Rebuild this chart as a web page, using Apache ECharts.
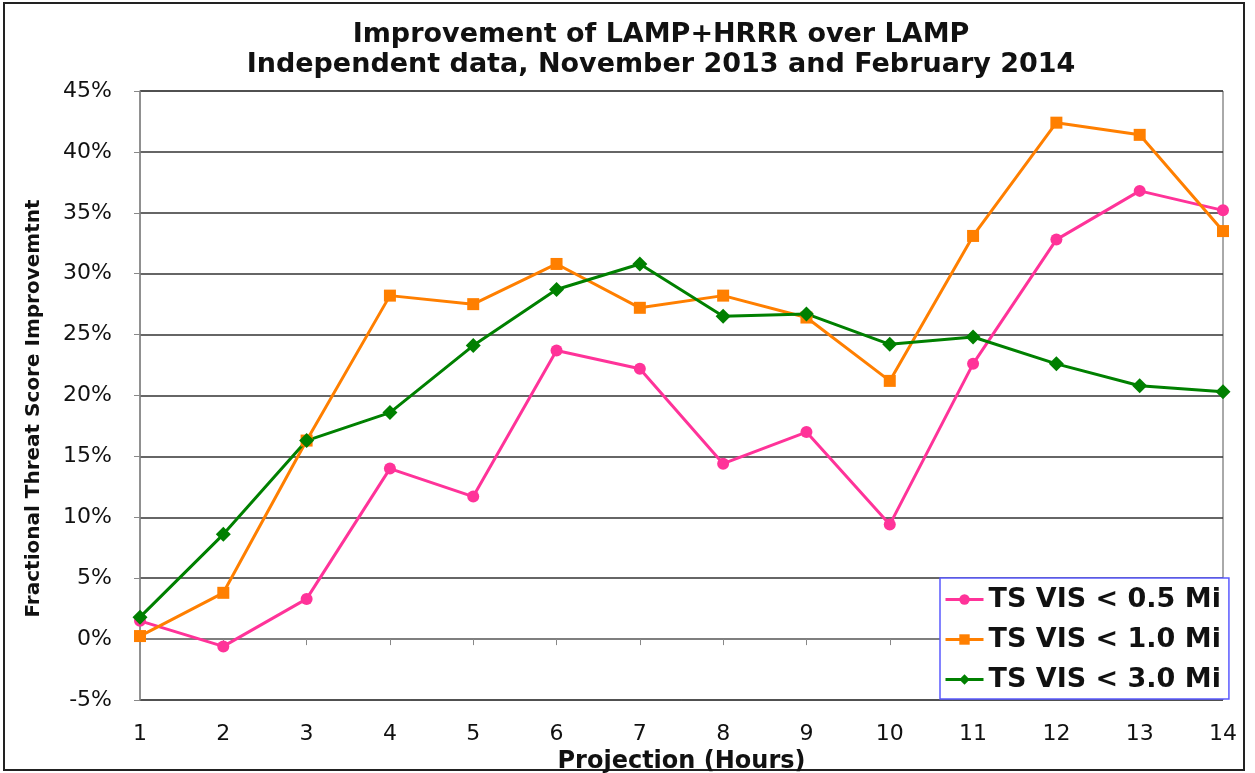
<!DOCTYPE html>
<html><head><meta charset="utf-8">
<script src="https://cdn.jsdelivr.net/npm/echarts@6/dist/echarts.min.js"></script>
<style>html,body{margin:0;padding:0;background:#fff}#c{width:1255px;height:773px}</style>
</head><body><div id="c"></div>
<script>
const categories = ['1','2','3','4','5','6','7','8','9','10','11','12','13','14'];
const vis05 = [1.5, -0.6, 3.3, 14.0, 11.7, 23.7, 22.2, 14.4, 17.0, 9.4, 22.6, 32.8, 36.8, 35.2];
const vis10 = [0.25, 3.8, 16.3, 28.2, 27.5, 30.8, 27.2, 28.2, 26.4, 21.2, 33.1, 42.4, 41.4, 33.5];
const vis30 = [1.8, 8.6, 16.3, 18.6, 24.1, 28.7, 30.8, 26.5, 26.7, 24.2, 24.8, 22.6, 20.8, 20.3];
const seriesNames = ['TS VIS < 0.5 Mi', 'TS VIS < 1.0 Mi', 'TS VIS < 3.0 Mi'];

const chart = echarts.init(document.getElementById('c'));
const font = 'DejaVu Sans, Arial, sans-serif';
function mk(name, data, color, symbol, size) {
  return { name, type: 'line', data, symbol, symbolSize: size,
    lineStyle: { color, width: 3 }, itemStyle: { color }, z: 3 };
}
chart.setOption({
  animation: false,
  backgroundColor: '#fff',
  title: {
    text: 'Improvement of LAMP+HRRR over LAMP\nIndependent data, November 2013 and February 2014',
    left: 656, textAlign: 'center', top: 15,
    textStyle: { fontFamily: font, fontSize: 27, fontWeight: 'bold', color: '#111', lineHeight: 30 }
  },
  graphic: [{ type: 'rect', shape: { x: 4, y: 3, width: 1240, height: 767 },
    style: { fill: 'none', stroke: '#222', lineWidth: 2 }, z: -1 }],
  grid: { left: 140, right: 32, top: 91, bottom: 73, containLabel: false, outerBoundsMode: 'none',
    show: true, borderColor: '#555', borderWidth: 1, backgroundColor: 'transparent' },
  legend: {
    orient: 'vertical', left: 940, top: 578,
    backgroundColor: '#fff', borderColor: '#5a5aff', borderWidth: 1.5,
    padding: [8, 8, 6, 4], itemGap: 13, itemWidth: 38, itemHeight: 13,
    lineStyle: { width: 3 },
    textStyle: { fontFamily: font, fontSize: 27, lineHeight: 27, fontWeight: 'bold', color: '#111' },
    data: seriesNames
  },
  xAxis: {
    type: 'category', data: categories, boundaryGap: false,
    name: 'Projection (Hours)', nameLocation: 'middle', nameGap: 48,
    nameTextStyle: { fontFamily: font, fontSize: 24, fontWeight: 'bold', color: '#111' },
    axisLine: { lineStyle: { color: '#888', width: 1.5 } },
    axisTick: { show: true, length: 6, lineStyle: { color: '#888' }, alignWithLabel: true },
    axisLabel: { fontFamily: font, fontSize: 22, color: '#111', margin: 23 },
    splitLine: { show: false }
  },
  yAxis: {
    type: 'value', min: -5, max: 45, interval: 5,
    name: 'Fractional Threat Score Improvemtnt', nameLocation: 'middle', nameGap: 96, nameRotate: 90,
    nameTextStyle: { fontFamily: font, fontSize: 20, fontWeight: 'bold', color: '#111', padding: [0, 26, 0, 0] },
    axisLine: { show: true, lineStyle: { color: '#888', width: 1.5 } },
    axisTick: { show: true, length: 6, lineStyle: { color: '#888' } },
    axisLabel: { fontFamily: font, fontSize: 22, color: '#111', margin: 28, formatter: v => v + '%' },
    splitLine: { show: true, lineStyle: { color: '#333', width: 1.5 } }
  },
  series: [
    mk(seriesNames[0], vis05, '#ff3399', 'circle', 12),
    mk(seriesNames[1], vis10, '#ff7f00', 'rect', 12),
    mk(seriesNames[2], vis30, '#008000', 'diamond', 15)
  ]
});
</script></body></html>
